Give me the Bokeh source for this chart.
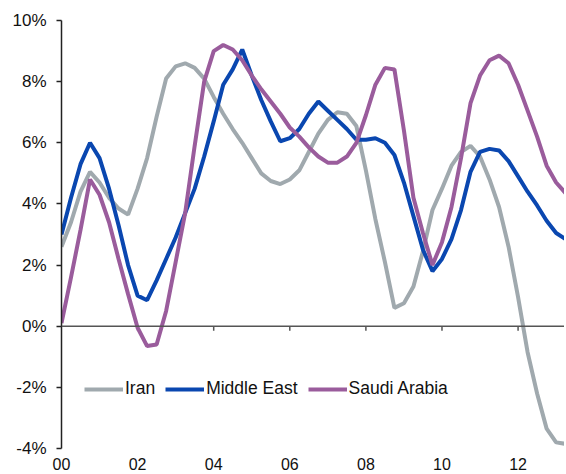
from bokeh.plotting import figure
from bokeh.models import Range1d, Span, FixedTicker, PrintfTickFormatter, Legend, LegendItem
from bokeh.embed import file_html
from bokeh.resources import INLINE

# quarterly, starting 2000 Q1 (years since 2000)
years = [i * 0.25 for i in range(54)]

iran = [2.6, 3.4, 4.4, 5.05, 4.7, 4.2, 3.85, 3.65, 4.5, 5.5, 6.85, 8.1,
        8.5, 8.6, 8.45, 8.1, 7.5, 6.95, 6.45, 6.0, 5.5, 5.0, 4.75, 4.65,
        4.8, 5.1, 5.7, 6.3, 6.75, 7.0, 6.95, 6.55, 5.1, 3.5, 2.1, 0.6,
        0.75, 1.3, 2.45, 3.8, 4.5, 5.25, 5.7, 5.9, 5.55, 4.8, 3.9, 2.6,
        0.95, -0.85, -2.2, -3.35, -3.8, -3.85]

middle_east = [3.0, 4.2, 5.3, 6.0, 5.5, 4.5, 3.3, 2.0, 1.0, 0.85, 1.5, 2.2,
               2.9, 3.7, 4.5, 5.55, 6.7, 7.9, 8.4, 9.05, 8.2, 7.4, 6.7, 6.05,
               6.15, 6.45, 6.95, 7.35, 7.05, 6.75, 6.45, 6.1, 6.1, 6.15, 6.0, 5.6,
               4.7, 3.6, 2.5, 1.8, 2.2, 2.85, 3.8, 5.05, 5.7, 5.8, 5.75, 5.4,
               4.9, 4.4, 3.95, 3.45, 3.05, 2.85]

saudi = [0.1, 1.6, 3.15, 4.8, 4.3, 3.4, 2.2, 1.05, -0.05, -0.65, -0.6, 0.5,
         2.1, 3.7, 5.9, 8.0, 9.0, 9.2, 9.05, 8.7, 8.2, 7.75, 7.35, 6.95,
         6.5, 6.2, 5.85, 5.55, 5.35, 5.35, 5.55, 6.0, 6.9, 7.9, 8.45, 8.4,
         6.4, 4.2, 3.05, 2.0, 2.75, 3.9, 5.5, 7.3, 8.2, 8.7, 8.85, 8.6,
         7.9, 7.05, 6.2, 5.25, 4.7, 4.35]

x_ticks = [0, 2, 4, 6, 8, 10, 12]
x_tick_labels = ["00", "02", "04", "06", "08", "10", "12"]
y_ticks = [-4, -2, 0, 2, 4, 6, 8, 10]

FONT = "Liberation Sans"

p = figure(width=564, height=472, output_backend="svg", toolbar_location=None,
           x_range=Range1d(0, 13.22), y_range=Range1d(-4, 10),
           min_border_left=61, min_border_right=0, min_border_top=20, min_border_bottom=24)
p.outline_line_color = None
p.grid.visible = False
p.background_fill_color = "white"

# y axis
yax = p.yaxis[0]
yax.ticker = FixedTicker(ticks=y_ticks)
yax.formatter = PrintfTickFormatter(format="%d%%")
yax.axis_line_color = "#222222"
yax.axis_line_width = 1.5
yax.major_tick_line_color = "#222222"
yax.major_tick_line_width = 1.5
yax.major_tick_in = 0
yax.major_tick_out = 5
yax.minor_tick_line_color = None
yax.major_label_text_font = FONT
yax.major_label_text_font_size = "17px"
yax.major_label_text_color = "#111111"
yax.major_label_standoff = 10

# x axis (labels only at bottom)
xax = p.xaxis[0]
xax.ticker = FixedTicker(ticks=x_ticks)
xax.major_label_overrides = {t: l for t, l in zip(x_ticks, x_tick_labels)}
xax.axis_line_color = None
xax.major_tick_line_color = None
xax.minor_tick_line_color = None
xax.major_tick_out = 0
xax.major_tick_in = 0
xax.major_label_text_font = FONT
xax.major_label_text_font_size = "16px"
xax.major_label_text_color = "#111111"
xax.major_label_standoff = 9

# zero line with ticks
p.add_layout(Span(location=0, dimension="width", line_color="#555555", line_width=1.5))
p.segment(x0=x_ticks[1:], y0=[0] * (len(x_ticks) - 1), x1=x_ticks[1:],
          y1=[-0.15] * (len(x_ticks) - 1), line_color="#555555", line_width=1.5)

r_iran = p.line(years, iran, line_color="#A0A9AE", line_width=4)
r_me = p.line(years, middle_east, line_color="#0A47B0", line_width=4)
r_sa = p.line(years, saudi, line_color="#9A5C9C", line_width=4)

legend = Legend(items=[LegendItem(label="Iran", renderers=[r_iran]),
                       LegendItem(label="Middle East", renderers=[r_me]),
                       LegendItem(label="Saudi Arabia", renderers=[r_sa])],
                orientation="horizontal", location=(23, 49),
                border_line_color=None, background_fill_alpha=0,
                glyph_width=39, label_standoff=2, spacing=10, padding=0, margin=0,
                label_text_font=FONT, label_text_font_size="17.5px",
                label_text_color="#111111")
p.add_layout(legend)

open("out.html", "w").write(file_html(p, INLINE))
